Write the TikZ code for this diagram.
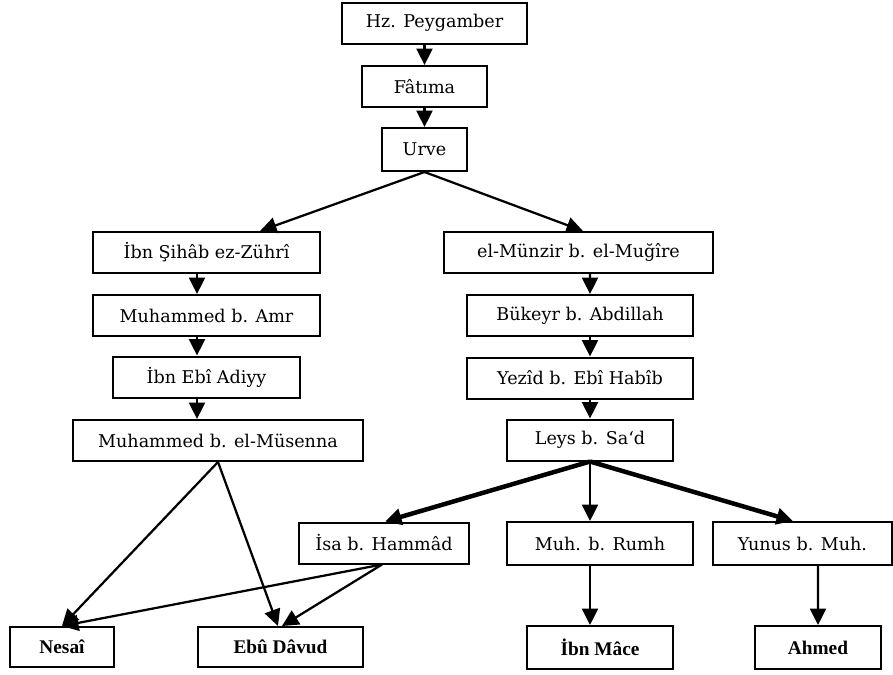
\documentclass[tikz,border=0pt]{standalone}
\usepackage{fontspec}
\setmainfont{DejaVu Serif}
\newfontfamily\kalinfont{Liberation Serif}
\usetikzlibrary{arrows.meta, calc}

\begin{document}
\begin{tikzpicture}[x = .02cm, y = -.02cm,
    kutu/.style = {draw, line width = .4mm, inner sep = 0pt, minimum height = .82cm, font = \fontsize{10}{12}\selectfont},
    son/.style = {kutu, font = \kalinfont\bfseries\fontsize{11}{12}\selectfont},
    ok/.style = {-{Triangle[length = 3.3mm, width = 3.2mm]}, line width = .45mm},
    kalin/.style = {ok, line width = .9mm}]
    \useasboundingbox(0, 0) rectangle (893, 674);
        %%Ust
        \node[kutu, minimum width = 3.7cm](hz) at(434.5, 23){Hz. Peygamber};
        \node[kutu, minimum width = 2.5cm](fatima) at(424.5, 86.5){Fâtıma};
        \node[kutu, minimum width = 1.7cm, minimum height = .86cm](urve) at(424.5, 149.5){Urve};
            \draw[ok](fatima.north |- hz.south) to (fatima.north);
            \draw[ok](fatima.south) to (urve.north);

        %%Sol
        \node[kutu, minimum width = 4.54cm](sihab) at(206.5, 252.5){İbn Şihâb ez-Zührî};
        \node[kutu, minimum width = 4.54cm](amr) at(206.5, 315.5){Muhammed b. Amr};
        \node[kutu, minimum width = 3.74cm](adiyy) at(206.5, 377){İbn Ebî Adiyy};
        \node[kutu, minimum width = 5.8cm](musenna) at(218, 440.5){Muhammed b. el-Müsenna};
            \draw[ok](urve.south) to ($(sihab.north)+(53.5, 0)$);
            \draw[ok]($(sihab.south)+(-9.5, 0)$) to ($(amr.north)+(-9.5, 0)$);
            \draw[ok]($(amr.south)+(-9.5, 0)$) to ($(adiyy.north)+(-9.5, 0)$);
            \draw[ok]($(adiyy.south)+(-9.5, 0)$) to ($(musenna.north)+(-21, 0)$);

        %%Sag
        \node[kutu, minimum width = 5.38cm](munzir) at(578.5, 252.5){el-Münzir b. el-Muğîre};
        \node[kutu, minimum width = 4.52cm](bukeyr) at(580, 315.5){Bükeyr b. Abdillah};
        \node[kutu, minimum width = 4.52cm](yezid) at(580, 378){Yezîd b. Ebî Habîb};
        \node[kutu, minimum width = 3.32cm](leys) at(590, 440){Leys b. Sa‘d};
            \draw[ok](urve.south) to ($(munzir.north)+(4.5, 0)$);
            \draw[ok]($(munzir.south)+(11.5, 0)$) to ($(bukeyr.north)+(10, 0)$);
            \draw[ok]($(bukeyr.south)+(10, 0)$) to ($(yezid.north)+(10, 0)$);
            \draw[ok]($(yezid.south)+(10, 0)$) to (leys.north);

        %%Leys
        \node[kutu, minimum width = 3.4cm](isa) at(384, 543){İsa b. Hammâd};
        \node[kutu, minimum width = 3.72cm, minimum height = .86cm](rumh) at(600, 543.5){Muh. b. Rumh};
        \node[kutu, minimum width = 3.58cm, minimum height = .86cm](yunus) at(802.5, 543.5){Yunus b. Muh.};
            \draw[kalin](leys.south) to ($(isa.north)+(1, 0)$);
            \draw[ok](leys.south) to ($(rumh.north)+(-10, 0)$);
            \draw[kalin](leys.south) to ($(yunus.north)+(-9.5, 0)$);

        %%Musannif
        \node[son, minimum width = 2.08cm, minimum height = .8cm](nesai) at(62, 647){Nesaî};
        \node[son, minimum width = 3.3cm, minimum height = .8cm](davud) at(280.5, 647){Ebû Dâvud};
        \node[son, minimum width = 2.92cm, minimum height = .86cm](ibnmace) at(600, 647.5){İbn Mâce};
        \node[son, minimum width = 2.52cm, minimum height = .86cm](ahmed) at(818, 647.5){Ahmed};
            \draw[ok](musenna.south) to (nesai.north);
            \draw[ok](musenna.south) to ($(davud.north)+(-2.5, 0)$);
            \draw[ok]($(isa.south)+(-2, 0)$) to (nesai.north);
            \draw[ok]($(isa.south)+(-2, 0)$) to ($(davud.north)+(1.5, 0)$);
            \draw[ok]($(rumh.south)+(-10, 0)$) to ($(ibnmace.north)+(-10, 0)$);
            \draw[ok]($(yunus.south)+(15.5, 0)$) to (ahmed.north);
\end{tikzpicture}
\end{document}
